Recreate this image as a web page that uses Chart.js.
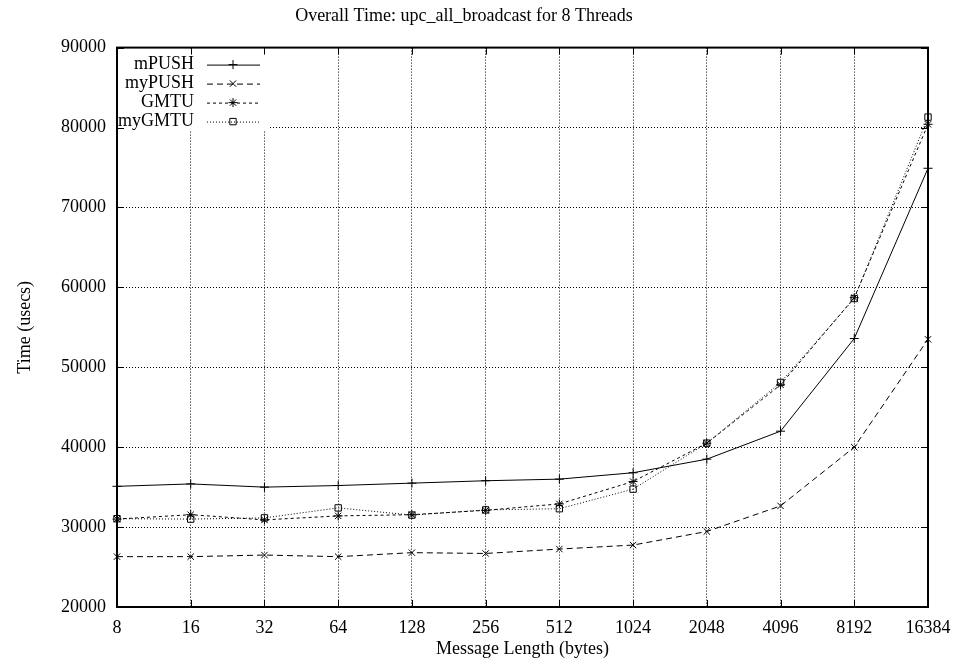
<!DOCTYPE html>
<html>
<head>
<meta charset="utf-8">
<script src="https://cdn.jsdelivr.net/npm/chart.js@4"></script>
<style>
  html, body { margin: 0; padding: 0; background: #fff; }
  #wrap { width: 953px; height: 664px; }
</style>
</head>
<body>
<div id="wrap"><canvas id="chart"></canvas></div>
<script>
// message sizes (bytes) on the x axis
const sizes = ['8', '16', '32', '64', '128', '256', '512', '1024', '2048', '4096', '8192', '16384'];

// overall time in usecs
const mPUSH  = [35100, 35400, 35000, 35200, 35500, 35800, 36000, 36800, 38500, 42000, 53600, 74900];
const myPUSH = [26300, 26300, 26500, 26300, 26800, 26700, 27250, 27750, 29450, 32650, 40000, 53500];
const GMTU   = [31000, 31550, 30900, 31400, 31550, 32100, 32900, 35700, 40500, 47800, 58700, 80400];
const myGMTU = [31050, 31000, 31150, 32400, 31500, 32150, 32300, 34750, 40500, 48100, 58600, 81300];

const yTicks = [20000, 30000, 40000, 50000, 60000, 70000, 80000, 90000];

const FONT = 'Liberation Serif';

function series(label, data, dash, style) {
    return {
        label: label,
        data: data,
        borderColor: '#000',
        backgroundColor: 'rgba(0,0,0,0)',
        borderWidth: 1,
        borderDash: dash,
        tension: 0,
        pointStyle: style,
        pointRadius: 4.5,
        pointBorderWidth: 1,
        pointBorderColor: '#000',
        pointBackgroundColor: 'rgba(0,0,0,0)'
    };
}

// gnuplot-ish frame, inward ticks and the key in the top left corner
const gnuplotFrame = {
    id: 'gnuplotFrame',
    afterDraw(chart) {
        const ctx = chart.ctx;
        const a = chart.chartArea;
        const xs = chart.scales.x, ys = chart.scales.y;
        ctx.save();
        ctx.strokeStyle = '#000';
        ctx.lineWidth = 1;
        ctx.setLineDash([]);

        // key background covers the grid
        ctx.fillStyle = '#fff';
        ctx.fillRect(a.left + 1, a.top + 1, 152, 82);

        ctx.beginPath();
        xs.ticks.forEach((t, i) => {
            const px = Math.round(xs.getPixelForTick(i)) + 0.5;
            ctx.moveTo(px, a.bottom); ctx.lineTo(px, a.bottom - 7);
            ctx.moveTo(px, a.top); ctx.lineTo(px, a.top + 7);
        });
        ys.ticks.forEach(t => {
            const py = Math.round(ys.getPixelForValue(t.value)) + 0.5;
            ctx.moveTo(a.left, py); ctx.lineTo(a.left + 7, py);
            ctx.moveTo(a.right, py); ctx.lineTo(a.right - 7, py);
        });
        ctx.stroke();

        ctx.lineWidth = 2;
        ctx.strokeRect(a.left, a.top, a.right - a.left, a.bottom - a.top);

        // key
        ctx.lineWidth = 1;
        ctx.font = '18px "' + FONT + '"';
        ctx.textAlign = 'right';
        ctx.textBaseline = 'middle';
        chart.data.datasets.forEach((ds, i) => {
            const ry = a.top + 17 + i * 19;
            ctx.fillStyle = '#000';
            ctx.fillText(ds.label, a.left + 77, ry);
            ctx.setLineDash(ds.borderDash);
            ctx.beginPath();
            ctx.moveTo(a.left + 90, ry + 0.5);
            ctx.lineTo(a.left + 143, ry + 0.5);
            ctx.stroke();
            ctx.setLineDash([]);
            ctx.fillStyle = 'rgba(0,0,0,0)';
            Chart.helpers.drawPoint(ctx, {
                pointStyle: ds.pointStyle, radius: 4.5, rotation: 0, borderWidth: 1
            }, a.left + 116, ry);
        });
        ctx.restore();
    }
};

const ctx = document.getElementById('chart').getContext('2d');
new Chart(ctx, {
    type: 'line',
    data: {
        labels: sizes,
        datasets: [
            series('mPUSH', mPUSH, [], 'cross'),
            series('myPUSH', myPUSH, [6, 4], 'crossRot'),
            series('GMTU', GMTU, [3, 3], 'star'),
            series('myGMTU', myGMTU, [1, 2], 'rect')
        ]
    },
    options: {
        responsive: true,
        maintainAspectRatio: false,
        animation: false,
        layout: { padding: { left: 0, right: 25, top: 0, bottom: 0 } },
        plugins: {
            legend: { display: false },
            tooltip: { enabled: false },
            title: {
                display: true,
                text: 'Overall Time: upc_all_broadcast for 8 Threads',
                color: '#000',
                font: { family: FONT, size: 18, weight: 'normal' },
                padding: { top: 5, bottom: 21 }
            }
        },
        scales: {
            x: {
                offset: false,
                grid: { color: '#000', lineWidth: 1, drawTicks: false },
                border: { display: false, dash: [1, 2] },
                ticks: {
                    color: '#000', padding: 10, maxRotation: 0, autoSkip: false,
                    font: { family: FONT, size: 18 }
                },
                title: {
                    display: true, text: 'Message Length (bytes)', color: '#000',
                    font: { family: FONT, size: 18 }, padding: { top: 0, bottom: 4 }
                },
                afterFit(scale) {
                    scale.height = 57;
                    scale.paddingLeft = 0;
                    scale.paddingRight = 0;
                }
            },
            y: {
                min: 20000,
                max: 90000,
                afterBuildTicks(scale) { scale.ticks = yTicks.map(v => ({ value: v })); },
                grid: { color: '#000', lineWidth: 1, drawTicks: false },
                border: { display: false, dash: [1, 2] },
                ticks: {
                    color: '#000', padding: 11,
                    font: { family: FONT, size: 18 },
                    callback: v => String(v)
                },
                title: {
                    display: true, text: 'Time (usecs)', color: '#000',
                    font: { family: FONT, size: 18 }, padding: { top: 14, bottom: 0 }
                },
                afterFit(scale) {
                    scale.width = 117;
                    scale.paddingTop = 0;
                    scale.paddingBottom = 0;
                }
            }
        }
    },
    plugins: [gnuplotFrame]
});
</script>
</body>
</html>
